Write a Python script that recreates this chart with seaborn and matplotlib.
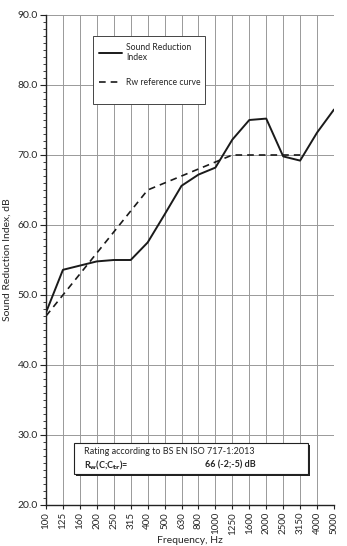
import matplotlib
matplotlib.use("Agg")
import matplotlib.pyplot as plt
import seaborn as sns
import pandas as pd
from matplotlib.patches import Rectangle
from matplotlib.ticker import MultipleLocator, FormatStrFormatter

frequencies = ["100", "125", "160", "200", "250", "315", "400", "500", "630", "800",
               "1000", "1250", "1600", "2000", "2500", "3150", "4000", "5000"]
sound_reduction = [47.5, 53.6, 54.2, 54.8, 55.0, 55.0, 57.5, 61.5, 65.6, 67.2,
                   68.2, 72.2, 75.0, 75.2, 69.8, 69.2, 73.2, 76.5]
ref_frequencies = frequencies[:16]
rw_reference = [47, 50, 53, 56, 59, 62, 65, 66, 67, 68, 69, 70, 70, 70, 70, 70]

sns.set_style("white")
plt.rcParams['font.family'] = ['Lato', 'DejaVu Sans']

W, H = 347, 546
fig = plt.figure(figsize=(W/100, H/100), dpi=100)
ax = fig.add_axes([46/W, 1-505/H, (334-46)/W, (505-15)/H])

df1 = pd.DataFrame({"f": frequencies, "v": sound_reduction})
df2 = pd.DataFrame({"f": ref_frequencies, "v": rw_reference})
sns.lineplot(data=df1, x="f", y="v", ax=ax, color="#1a1a1a", lw=1.4,
             label="Sound Reduction\nIndex", sort=False)
sns.lineplot(data=df2, x="f", y="v", ax=ax, color="#1a1a1a", lw=1.2,
             linestyle=(0, (4, 3)), label="Rw reference curve", sort=False)

ax.set_xlim(0, len(frequencies) - 1)
ax.set_ylim(20, 90)
ax.yaxis.set_major_locator(MultipleLocator(10))
ax.yaxis.set_minor_locator(MultipleLocator(1))
ax.yaxis.set_major_formatter(FormatStrFormatter("%.1f"))
ax.grid(True, axis="both", which="major", color="#999999", lw=0.7)
ax.set_axisbelow(True)
for s in ["top", "right"]:
    ax.spines[s].set_visible(False)
for s in ["left", "bottom"]:
    ax.spines[s].set_color("#222222")
    ax.spines[s].set_linewidth(1.0)
ax.tick_params(axis="y", which="major", left=True, length=4, labelsize=7.5, pad=2, color="#222222")
ax.tick_params(axis="y", which="minor", left=True, length=2, color="#222222", width=0.6)
ax.tick_params(axis="x", which="major", bottom=True, length=3, labelsize=7, rotation=90, pad=2, color="#222222")
ax.set_xlabel("Frequency, Hz", fontsize=7.5, labelpad=1)
ax.set_ylabel("Sound Reduction Index, dB", fontsize=7.5, labelpad=4)

# legend frame
frame = Rectangle((93/W, 1-104/H), (205-93)/W, (104-36)/H, transform=fig.transFigure,
                  facecolor="white", edgecolor="#444444", lw=0.7, zorder=4)
ax.add_patch(frame)
leg = ax.legend(loc="upper left", bbox_to_anchor=((97-46)/288, (505-41)/490),
                frameon=False, fontsize=6.2, handlelength=2.7, borderaxespad=0,
                labelspacing=1.9, borderpad=0.2, handletextpad=0.5)
leg.set_zorder(5)

# rating box
shadow = Rectangle((75.5/W, 1-475.5/H), (308-74)/W, (474-443)/H, transform=fig.transFigure,
                   facecolor="#222222", edgecolor="none", zorder=4)
box = Rectangle((74/W, 1-474/H), (308-74)/W, (474-443)/H, transform=fig.transFigure,
                facecolor="white", edgecolor="#222222", lw=0.8, zorder=5)
fig.patches.extend([shadow, box])
fig.text(84/W, 1-452/H, "Rating according to BS EN ISO 717-1:2013", fontsize=6.5,
         va="center", ha="left", zorder=6)
fig.text(84/W, 1-465/H, r"R$_\mathbf{w}$(C;C$_\mathbf{tr}$)=", fontsize=6.5,
         fontweight="bold", va="center", ha="left", zorder=6)
fig.text(205/W, 1-465/H, "66 (-2;-5) dB", fontsize=6.5, fontweight="bold",
         va="center", ha="left", zorder=6)

fig.savefig("out.png", dpi=100)
